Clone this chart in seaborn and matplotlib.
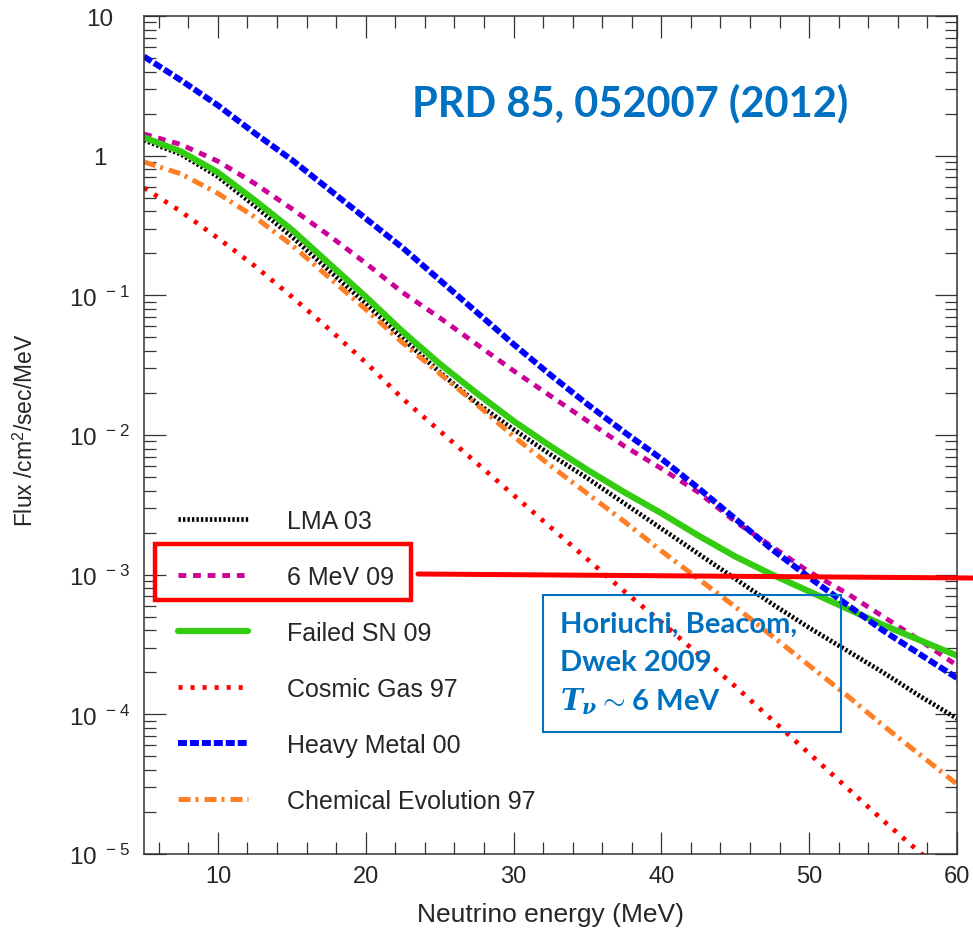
import numpy as np
import matplotlib
matplotlib.use('Agg')
from matplotlib import pyplot as plt
from matplotlib.lines import Line2D
from matplotlib.patches import Rectangle
from matplotlib.ticker import FixedLocator, LogLocator, MultipleLocator, FuncFormatter, NullFormatter
import seaborn as sns

sns.set_style('ticks')
plt.rcParams['font.family'] = ['Liberation Sans', 'DejaVu Sans']
plt.rcParams['mathtext.fontset'] = 'custom'
plt.rcParams['mathtext.rm'] = 'Liberation Sans'
plt.rcParams['mathtext.it'] = 'DejaVu Serif:style=italic:weight=bold'
plt.rcParams['mathtext.bf'] = 'Liberation Sans:weight=bold'

# neutrino energy (MeV) and log10 of flux
energy = [5, 7.5, 10, 12.5, 15, 17.5, 20, 22.5, 25, 27.5, 30, 32.5,
          35, 37.5, 40, 42.5, 45, 47.5, 50, 52.5, 55, 57.5, 60]
lma_03 = [0.11, 0.01, -0.15, -0.36, -0.58, -0.82, -1.06, -1.31, -1.55, -1.77, -1.96, -2.14,
          -2.31, -2.49, -2.67, -2.85, -3.03, -3.21, -3.38, -3.54, -3.70, -3.87, -4.03]
mev6_09 = [0.155, 0.08, -0.04, -0.20, -0.38, -0.57, -0.77, -0.98, -1.16, -1.35, -1.54, -1.72,
           -1.90, -2.08, -2.24, -2.41, -2.62, -2.80, -2.98, -3.13, -3.30, -3.47, -3.65]
failed_sn_09 = [0.13, 0.03, -0.12, -0.32, -0.53, -0.77, -1.01, -1.26, -1.49, -1.70, -1.90, -2.08,
                -2.25, -2.41, -2.56, -2.72, -2.87, -3.00, -3.12, -3.24, -3.36, -3.47, -3.58]
cosmic_gas_97 = [-0.23, -0.40, -0.59, -0.79, -1.01, -1.24, -1.48, -1.74, -1.97, -2.20, -2.43, -2.66,
                 -2.89, -3.12, -3.34, -3.57, -3.80, -4.04, -4.28, -4.52, -4.76, -4.99, -5.22]
heavy_metal_00 = [0.71, 0.54, 0.36, 0.16, -0.03, -0.24, -0.45, -0.66, -0.89, -1.12, -1.35, -1.57,
                  -1.78, -1.98, -2.17, -2.38, -2.60, -2.82, -3.02, -3.21, -3.40, -3.57, -3.74]
chem_evol_97 = [-0.045, -0.13, -0.27, -0.44, -0.64, -0.87, -1.10, -1.34, -1.56, -1.78, -2.01, -2.22,
                -2.42, -2.62, -2.83, -3.03, -3.23, -3.44, -3.65, -3.86, -4.08, -4.29, -4.50]

labels = ['LMA 03', '6 MeV 09', 'Failed SN 09', 'Cosmic Gas 97', 'Heavy Metal 00', 'Chemical Evolution 97']
series = [lma_03, mev6_09, failed_sn_09, cosmic_gas_97, heavy_metal_00, chem_evol_97]
colors = ['black', '#CC0099', '#33CC11', '#FF0000', '#0000FF', '#FF7F27']
widths = [3.4, 3.5, 4.5, 3.4, 4.3, 3.6]
styles = [(0, (0.5, 0.45)), (0, (1.6, 1.4)), '-', (0, (0.85, 1.7)), (0, (1.5, 0.5)),
          (0, (2.4, 1.0, 0.6, 1.2))]
decades = [1e-5, 1e-4, 1e-3, 1e-2, 1e-1, 1, 10]

fig = plt.figure(figsize=(9.73, 9.37), dpi=100)
ax = fig.add_axes([144 / 973, 1 - 855 / 937, 813 / 973, 838 / 937])

for name, vals, c, lw, ls in zip(labels, series, colors, widths, styles):
    sns.lineplot(x=energy, y=10 ** np.array(vals), ax=ax, color=c, lw=lw,
                 linestyle=ls, label=name, dash_capstyle='butt')

ax.set_yscale('log')
ax.set_xlim(5, 60)
ax.set_ylim(1e-5, 10)

ax.xaxis.set_major_locator(MultipleLocator(10))
ax.xaxis.set_minor_locator(MultipleLocator(2))
ax.yaxis.set_major_locator(FixedLocator(decades))
ax.yaxis.set_minor_locator(LogLocator(base=10, subs=np.arange(2, 10), numticks=20))
ax.yaxis.set_minor_formatter(NullFormatter())


def ylab(v, pos):
    e = int(round(np.log10(v)))
    if e == 1:
        return '10'
    if e == 0:
        return '1'
    return r'$\mathregular{10^{\ %d}}$' % e


ax.yaxis.set_major_formatter(FuncFormatter(ylab))
ax.tick_params(which='both', direction='in', top=True, right=True, color='#333333', width=0.9)
ax.tick_params(which='major', length=16)
ax.tick_params(which='minor', length=8.6)
ax.tick_params(axis='x', labelsize=17, pad=8)
ax.tick_params(axis='y', labelsize=17.5, pad=32)
for t in ax.get_yticklabels():
    t.set_horizontalalignment('center')
for s in ax.spines.values():
    s.set_linewidth(1.1)
    s.set_color('#333333')

ax.set_xlabel('Neutrino energy (MeV)', fontsize=19)
ax.set_ylabel('Flux /cm$^2$/sec/MeV', fontsize=16.5)
ax.xaxis.set_label_coords(0.5, -0.057)
ax.yaxis.set_label_coords(-0.130, 0.507)

ax.legend(ax.get_lines(), labels, loc='upper left', bbox_to_anchor=(0.042, 0.412),
          frameon=False, fontsize=18, handlelength=2.8, handletextpad=1.56,
          labelspacing=1.28, borderpad=0, borderaxespad=0)

blue = '#0070C0'
fig.text(630 / 973, 1 - 103 / 937, 'PRD 85, 052007 (2012)', color=blue, fontsize=30,
         fontweight='bold', family='Lato', ha='center', va='center')

fig.add_artist(Rectangle((543 / 973, 1 - 733 / 937), 298 / 973, 137 / 937, fill=False,
                         ec=blue, lw=1.5, transform=fig.transFigure))
for txt, yy in [('Horiuchi, Beacom,', 625), ('Dwek 2009', 663), (r'$T_{\nu}\sim$6 MeV', 702)]:
    fig.text(560 / 973, 1 - yy / 937, txt, color=blue, fontsize=21, fontweight='bold',
             family='Lato', ha='left', va='center')

fig.add_artist(Rectangle((154.5 / 973, 1 - 601 / 937), 256 / 973, 56.5 / 937, fill=False,
                         ec='red', lw=3.2, transform=fig.transFigure))
fig.add_artist(Line2D([418 / 973, 1.0], [1 - 575 / 937, 1 - 579 / 937], color='red', lw=3.6,
                      transform=fig.transFigure))

fig.savefig('out.png', dpi=100)
